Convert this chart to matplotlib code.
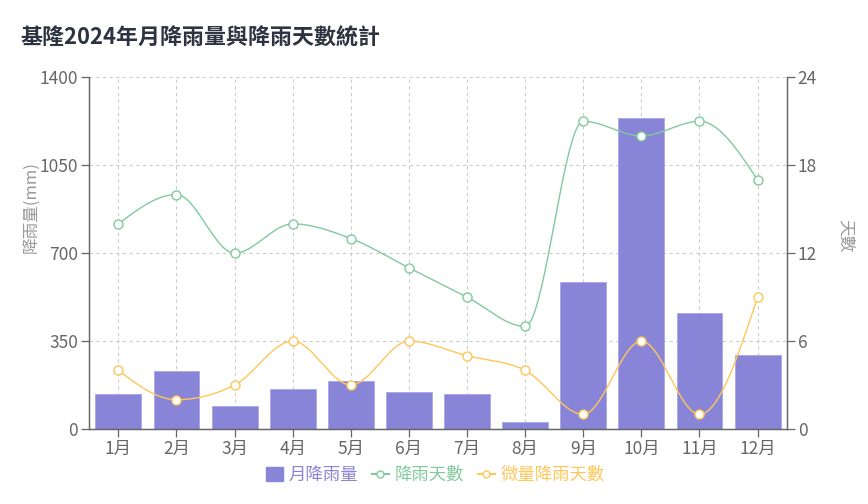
import matplotlib
matplotlib.use('Agg')
import matplotlib.pyplot as plt
from matplotlib.lines import Line2D
from matplotlib.patches import Patch
import numpy as np

plt.rcParams['font.family'] = ['Noto Sans CJK TC', 'DejaVu Sans']

# 資料
months = ['1月', '2月', '3月', '4月', '5月', '6月', '7月', '8月', '9月', '10月', '11月', '12月']
rain_mm = [141, 231, 93, 159, 193, 149, 138, 29, 586, 1238, 461, 295]
rain_days = [14, 16, 12, 14, 13, 11, 9, 7, 21, 20, 21, 17]
trace_days = [4, 2, 3, 6, 3, 6, 5, 4, 1, 6, 1, 9]

c_bar = '#8884d8'
c_green = '#82ca9d'
c_yellow = '#ffc658'
c_axis = '#666666'


# 類似 d3 curveMonotoneX 的平滑曲線
def monotone(xs, ys, n=40):
    xs = np.asarray(xs, float)
    ys = np.asarray(ys, float)
    m = len(xs)
    t = np.zeros(m)
    for i in range(1, m - 1):
        h0 = xs[i] - xs[i - 1]
        h1 = xs[i + 1] - xs[i]
        s0 = (ys[i] - ys[i - 1]) / h0
        s1 = (ys[i + 1] - ys[i]) / h1
        p = (s0 * h1 + s1 * h0) / (h0 + h1)
        t[i] = (np.sign(s0) + np.sign(s1)) * min(abs(s0), abs(s1), 0.5 * abs(p))
    h = xs[1] - xs[0]
    t[0] = (3 * (ys[1] - ys[0]) / h - t[1]) / 2
    h = xs[-1] - xs[-2]
    t[-1] = (3 * (ys[-1] - ys[-2]) / h - t[-2]) / 2
    out_x, out_y = [], []
    u = np.linspace(0, 1, n)
    for i in range(m - 1):
        x0, x1 = xs[i], xs[i + 1]
        y0, y1 = ys[i], ys[i + 1]
        dx = (x1 - x0) / 3
        px = [x0, x0 + dx, x1 - dx, x1]
        py = [y0, y0 + dx * t[i], y1 - dx * t[i + 1], y1]
        bx = ((1 - u) ** 3 * px[0] + 3 * (1 - u) ** 2 * u * px[1]
              + 3 * (1 - u) * u ** 2 * px[2] + u ** 3 * px[3])
        by = ((1 - u) ** 3 * py[0] + 3 * (1 - u) ** 2 * u * py[1]
              + 3 * (1 - u) * u ** 2 * py[2] + u ** 3 * py[3])
        out_x.extend(bx)
        out_y.extend(by)
    return np.array(out_x), np.array(out_y)


fig = plt.figure(figsize=(8.68, 5.04), dpi=100)
ax = fig.add_axes([0.1029, 0.1488, 0.9063 - 0.1029, 0.8466 - 0.1488])
ax2 = ax.twinx()

x = np.arange(len(months))
ax.bar(x, rain_mm, width=0.79, color=c_bar, edgecolor='#a9a6e6', linewidth=0.6, zorder=2)

ax.set_xlim(-0.5, len(months) - 0.5)
ax.set_ylim(0, 1400)
ax.set_yticks([0, 350, 700, 1050, 1400])
ax.set_xticks(x)
ax.set_xticklabels(months)
ax.grid(True, color='#cccccc', linestyle=(0, (3, 3)), linewidth=0.8, zorder=0)
ax.set_axisbelow(True)

ax2.set_ylim(0, 24)
ax2.set_yticks([0, 6, 12, 18, 24])

for a in (ax, ax2):
    a.spines['top'].set_visible(False)
    for s in ('left', 'right', 'bottom'):
        a.spines[s].set_color(c_axis)
        a.spines[s].set_linewidth(0.9)
    a.tick_params(colors=c_axis, labelsize=12.5, length=6, width=0.9, pad=2)
    a.tick_params(axis='y', labelcolor=c_axis)

ax.set_ylabel('降雨量(mm)', color='#999999', fontsize=12, labelpad=-2)
ax.yaxis.set_label_coords(-0.072, 0.63)
ax2.set_ylabel('天數', color='#999999', fontsize=12, rotation=-90, labelpad=14)
ax2.yaxis.set_label_coords(1.097, 0.55)

for vals, col in ((rain_days, c_green), (trace_days, c_yellow)):
    sx, sy = monotone(x, vals)
    ax2.plot(sx, sy, color=col, linewidth=1.0, zorder=3)
    ax2.plot(x, vals, linestyle='none', marker='o', markersize=6.5,
             markerfacecolor='white', markeredgecolor=col, markeredgewidth=1.0, zorder=4)

fig.text(20 / 868, 1 - 38 / 504, '基隆2024年月降雨量與降雨天數統計', fontsize=15.8,
         fontweight='bold', color='#2d3340', va='center', ha='left')

handles = [
    Patch(facecolor=c_bar, edgecolor=c_bar),
    Line2D([0], [0], color=c_green, marker='o', markersize=5, markerfacecolor='white', linewidth=1.5),
    Line2D([0], [0], color=c_yellow, marker='o', markersize=5, markerfacecolor='white', linewidth=1.5),
]
labels = ['月降雨量', '降雨天數', '微量降雨天數']
leg = fig.legend(handles, labels, loc='center', bbox_to_anchor=(435 / 868, 1 - 475 / 504),
                 ncol=3, frameon=False, fontsize=12.5, handlelength=1.0, handletextpad=0.3,
                 columnspacing=0.8, handleheight=0.8)
for txt, col in zip(leg.get_texts(), (c_bar, c_green, c_yellow)):
    txt.set_color(col)

fig.savefig('out.png', dpi=100)
